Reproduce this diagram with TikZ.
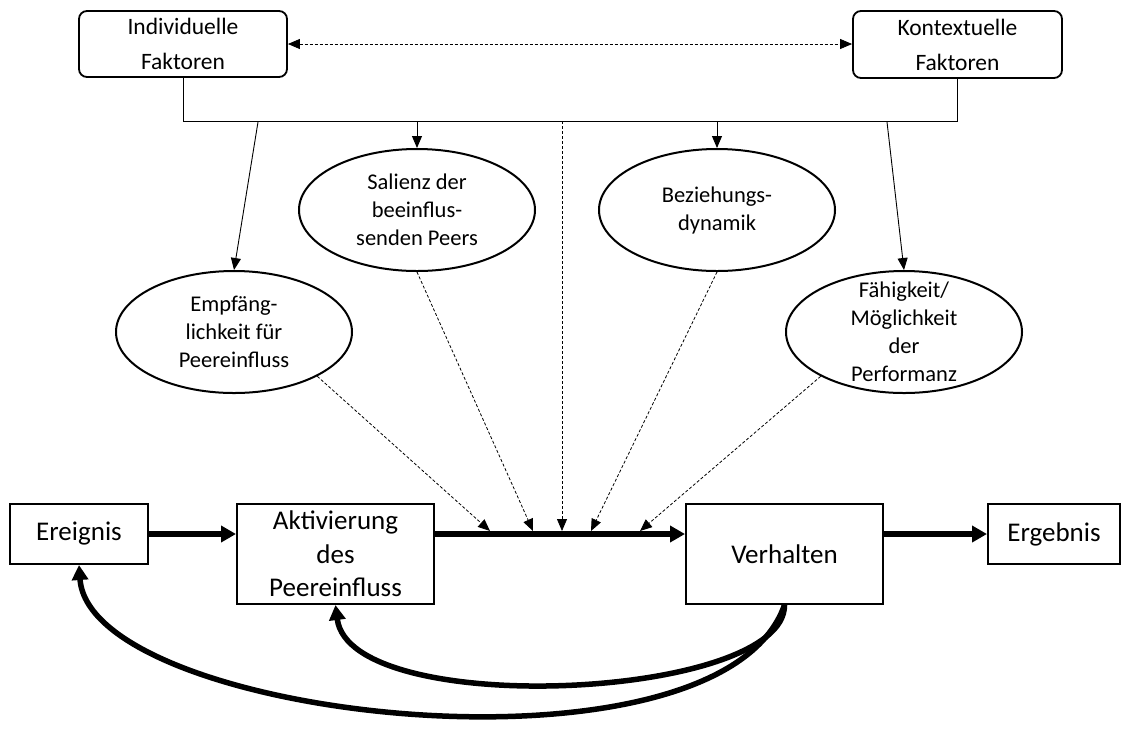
\documentclass[tikz,border=0pt]{standalone}
\usepackage{fontspec}
\setmainfont{Carlito}
\usetikzlibrary{shapes.geometric,arrows.meta}
\begin{document}
\begin{tikzpicture}[x=1pt,y=-1pt,
  topbox/.style={draw,rounded corners=8pt,line width=1.8pt,inner sep=0pt,align=center,font=\fontsize{23.5}{35}\selectfont},
  ell/.style={draw,ellipse,line width=2pt,inner sep=0pt,minimum width=236pt,minimum height=122pt},
  elltext/.style={inner sep=0pt,align=center,font=\fontsize{22.5}{28}\selectfont},
  mainbox/.style={draw,line width=2pt,inner sep=0pt,align=center,font=\fontsize{27}{33.5}\selectfont},
  thinarr/.style={line width=0.9pt,-{Triangle[length=12pt,width=10pt]}},
  dsh/.style={line width=0.8pt,dash pattern=on 3pt off 2pt,-{Triangle[length=12pt,width=10pt]}},
  thickarr/.style={line width=5.5pt,-{Triangle[length=15pt,width=16pt]}}
]
\useasboundingbox (0,0) rectangle (1129,729);

% top boxes
\node[topbox,minimum width=208pt,minimum height=66pt] (ind) at (183,44) {Individuelle\\Faktoren};
\node[topbox,minimum width=209pt,minimum height=67pt] (kon) at (957.5,44.5) {Kontextuelle\\Faktoren};

% ellipses
\node[ell] (sal) at (417,210) {};
\node[elltext] (salT) at (sal.center) {Salienz der\\beeinflus-\\senden Peers};
\node[ell] (bez) at (717,210) {};
\node[elltext] (bezT) at (bez.center) {Beziehungs-\\dynamik};
\node[ell] (emp) at (234,332) {};
\node[elltext] (empT) at (emp.center) {Empfäng-\\lichkeit für\\Peereinfluss};
\node[ell] (fah) at (904,332) {};
\node[elltext] (fahT) at (fah.center) {Fähigkeit/\\Möglichkeit\\der\\Performanz};

% bottom boxes
\node[mainbox,minimum width=138pt,minimum height=60pt] (ere) at (79,534) {Ereignis};
\node[mainbox,minimum width=197pt,minimum height=100pt] (akt) at (335.5,554) {Aktivierung\\des\\Peereinfluss};
\node[mainbox,minimum width=197pt,minimum height=100pt] (verh) at (784.5,554) {Verhalten};
\node[mainbox,minimum width=132pt,minimum height=60pt] (erg) at (1054,534) {Ergebnis};

% top double dashed arrow
\draw[line width=0.8pt,dash pattern=on 3pt off 2pt,{Triangle[length=12pt,width=10pt]}-{Triangle[length=12pt,width=10pt]}] (ind.east) -- (kon.west |- ind.east);

% bracket
\coordinate (bar) at (0,121);
\draw[line width=1pt] (ind.south) -- (ind.south |- bar) -- (kon.south |- bar) -- (kon.south);
\draw[thinarr] (sal.north |- bar) -- (sal.north);
\draw[thinarr] (bez.north |- bar) -- (bez.north);
\coordinate (s1) at (258,122);
\coordinate (s2) at (887,122);
\coordinate (s3) at (562,121);
\draw[thinarr] (s1) -- (emp.north);
\draw[thinarr] (s2) -- (fah.north);

% dashed influences onto main arrow
\coordinate (t1) at (490,531);
\coordinate (t2) at (533,531);
\coordinate (t3) at (562,531);
\coordinate (t4) at (591,531);
\coordinate (t5) at (640,531);
\draw[dsh] (emp.-28) -- (t1);
\draw[dsh] (sal.south) -- (t2);
\draw[dsh] (s3) -- (t3);
\draw[dsh] (bez.south) -- (t4);
\draw[dsh] (fah.-152) -- (t5);

% main flow
\draw[thickarr] (ere.east) -- (akt.west |- ere.east);
\draw[thickarr] (akt.east |- ere.east) -- (verh.west |- ere.east);
\draw[thickarr] (verh.east |- erg.west) -- (erg.west);

% feedback curves
\draw[thickarr] (verh.south) .. controls (785,700) and (350,720) .. (akt.south);
\draw[thickarr] (verh.south) .. controls (720,790) and (90,720) .. (ere.south);
\end{tikzpicture}
\end{document}
